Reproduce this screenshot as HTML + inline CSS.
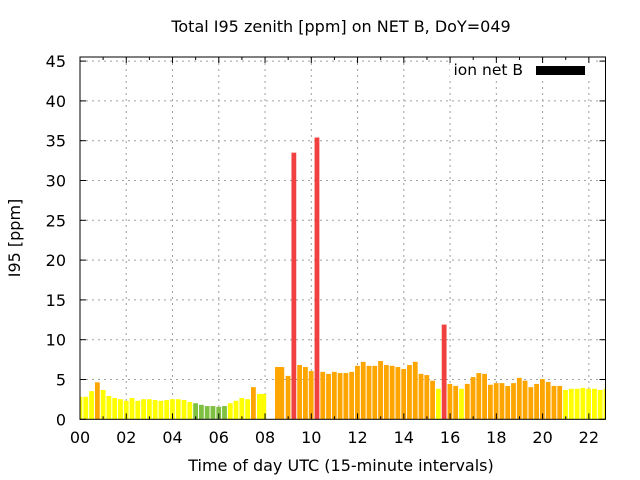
<!DOCTYPE html>
<html><head><meta charset="utf-8"><style>
html,body{margin:0;padding:0;background:#fff;}
svg{display:block;font-family:"DejaVu Sans","Liberation Sans",sans-serif;}
</style></head><body>
<svg id="s" width="640" height="480" xmlns="http://www.w3.org/2000/svg">
<rect width="640" height="480" fill="#fff"/>
<g id="grid" stroke="#a0a0a0" stroke-width="1" stroke-dasharray="2,4"></g>
<defs><clipPath id="c"><rect x="80" y="57" width="525.5" height="362.5"/></clipPath></defs>
<g id="bars" clip-path="url(#c)"></g>
<rect x="450" y="60" width="145" height="20" fill="#fff"/>
<text x="523" y="75" font-size="15.5" text-anchor="end" fill="#000">ion net B</text>
<rect x="536" y="66" width="49" height="9" fill="#000"/>
<g id="ax" stroke="#000" stroke-width="1" fill="none"></g>
<g id="lab" font-size="16" fill="#000"></g>
<text x="341" y="32" font-size="16" text-anchor="middle">Total I95 zenith [ppm] on NET B, DoY=049</text>
<text x="341" y="471" font-size="16" text-anchor="middle">Time of day UTC (15-minute intervals)</text>
<text transform="translate(20,238) rotate(-90)" font-size="16" text-anchor="middle">I95 [ppm]</text>
</svg>
<script>
var NS="http://www.w3.org/2000/svg";
function el(p,t,a){var e=document.createElementNS(NS,t);for(var k in a)e.setAttribute(k,a[k]);p.appendChild(e);return e;}
var L=80,R=605.5,T=57,B=419.3,sy=7.96,hx=23.13;
var g=document.getElementById('grid'),ax=document.getElementById('ax'),lab=document.getElementById('lab');
for(var k=0;k<=9;k++){var y=B-k*5*sy;
 if(k>0)el(g,'line',{x1:L,x2:R,y1:y,y2:y});
 el(ax,'line',{x1:L,x2:L+6,y1:y,y2:y});el(ax,'line',{x1:R,x2:R-6,y1:y,y2:y});
 var t=el(lab,'text',{x:66,y:y+6,'text-anchor':'end'});t.textContent=k*5;}
for(var h=0;h<=22;h+=2){var x=L+h*hx;
 if(h>0)el(g,'line',{x1:x,x2:x,y1:T,y2:B});
 el(ax,'line',{x1:x,x2:x,y1:B,y2:B-6});el(ax,'line',{x1:x,x2:x,y1:T,y2:T+6});
 var t=el(lab,'text',{x:x,y:443,'text-anchor':'middle'});t.textContent=(h<10?'0':'')+h;}
for(var h=1;h<=22;h+=2){var x=L+h*hx;el(ax,'line',{x1:x,x2:x,y1:B,y2:B-3});el(ax,'line',{x1:x,x2:x,y1:T,y2:T+3});}
el(ax,'rect',{x:L,y:T,width:R-L,height:B-T});
var Y='#ffff00',O='#ffa500',Rd='#f04040',G='#80c040';
var d=[[0,2.8,Y],[1,2.8,Y],[2,3.5,Y],[3,4.6,O],[4,3.65,Y],[5,2.9,Y],[6,2.65,Y],[7,2.5,Y],[8,2.3,Y],[9,2.65,Y],[10,2.3,Y],[11,2.5,Y],[12,2.5,Y],[13,2.4,Y],[14,2.3,Y],[15,2.4,Y],[16,2.5,Y],[17,2.5,Y],[18,2.4,Y],[19,2.15,Y],[20,2.0,G],[21,1.8,G],[22,1.65,G],[23,1.65,G],[24,1.55,G],[25,1.65,G],[26,2.0,Y],[27,2.3,Y],[28,2.65,Y],[29,2.5,Y],[30,4.0,O],
[36,5.4,O],[37,33.5,Rd],[38,6.75,O],[39,6.5,O],[40,6.0,O],[41,35.4,Rd],[42,5.9,O],[43,5.65,O],[44,5.9,O],[45,5.75,O],[46,5.75,O],[47,5.9,O],[48,6.65,O],[49,7.15,O],[50,6.65,O],[51,6.65,O],[52,7.25,O],[53,6.75,O],[54,6.65,O],[55,6.5,O],[56,6.25,O],[57,6.75,O],[58,7.15,O],[59,5.65,O],[60,5.5,O],[61,4.8,O],[62,3.8,Y],[63,11.9,Rd],[64,4.4,O],[65,4.15,O],[66,3.8,Y],[67,4.4,O],[68,5.25,O],[69,5.75,O],[70,5.65,O],[71,4.3,O],[72,4.5,O],[73,4.5,O],[74,4.15,O],[75,4.5,O],[76,5.15,O],[77,4.8,O],[78,4.0,O],[79,4.4,O],[80,5.0,O],[81,4.65,O],[82,4.15,O],[83,4.15,O],[84,3.65,Y],[85,3.8,Y],[86,3.8,Y],[87,3.9,Y],[88,3.8,Y],[89,3.8,Y],[90,3.65,Y],[91,3.8,Y]];
var bg=document.getElementById('bars');
d.forEach(function(b){var v=b[2]==Rd?b[1]*7.96:b[1]*8.04;var c=L+b[0]*5.78;
 el(bg,'rect',{x:c-2.4,y:B-v,width:4.8,height:v,fill:b[2]});});
el(bg,'rect',{x:257,y:B-3.15*8.04,width:9.2,height:3.15*8.04,fill:Y});
el(bg,'rect',{x:275,y:B-6.5*8.04,width:9.2,height:6.5*8.04,fill:O});
</script>
</body></html>
